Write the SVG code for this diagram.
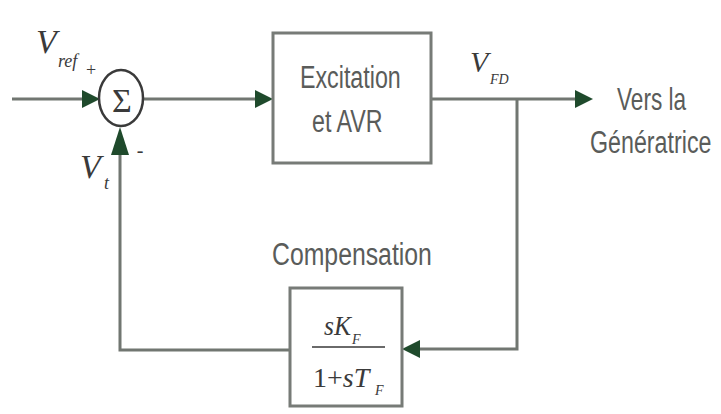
<svg xmlns="http://www.w3.org/2000/svg" width="721" height="414" viewBox="0 0 721 414">
<style>
.ln{fill:none;stroke:#717671;stroke-width:3;stroke-linejoin:miter}
.box{fill:#ffffff;stroke:#777b77;stroke-width:3}
.ah{fill:#1f4a2c}
.lbl{font-family:"Liberation Sans",Arial,sans-serif;font-size:31px;fill:#5a5c5a}
.m{font-family:"Liberation Serif","Times New Roman",serif;font-style:italic;fill:#3a3a3a}
.r{font-family:"Liberation Serif","Times New Roman",serif;fill:#3a3a3a}
</style>
<rect width="721" height="414" fill="#ffffff"/>
<g id="connectors">
<path class="ln" d="M12,99 H90"/>
<path class="ln" d="M142,99 H262"/>
<path class="ln" d="M431,99 H582"/>
<path class="ln" d="M517,99 V349 H412"/>
<path class="ln" d="M290,350 H120 V140"/>
<polygon class="ah" points="100,99 82,90 82,108"/>
<polygon class="ah" points="273,99 255,90 255,108"/>
<polygon class="ah" points="593,99 575,90 575,108"/>
<polygon class="ah" points="402,349 420,340 420,358"/>
<polygon class="ah" points="120,127 111,155 129,155"/>
</g>
<g id="sum">
<ellipse cx="121" cy="98" rx="22" ry="28" fill="#ffffff" stroke="#3a3a3a" stroke-width="2.5"/>
<text class="r" x="122" y="112" font-size="34" text-anchor="middle">Σ</text>
</g>
<g id="vref">
<text class="m" x="36" y="53" font-size="34">V</text>
<text class="m" x="58" y="67" font-size="18">ref</text>
<text class="r" x="91" y="76" font-size="18" text-anchor="middle">+</text>
</g>
<g id="vt">
<text class="m" x="80" y="178" font-size="34">V</text>
<text class="m" x="104" y="189" font-size="18">t</text>
<text class="r" x="140" y="157" font-size="20" text-anchor="middle">-</text>
</g>
<g id="excitation">
<rect class="box" x="273" y="33" width="158" height="130"/>
<text class="lbl" transform="translate(300,88) scale(0.75,1)">Excitation</text>
<text class="lbl" transform="translate(312,132) scale(0.75,1)">et AVR</text>
</g>
<g id="vfd">
<text class="m" x="470" y="72" font-size="30">V</text>
<text class="m" x="490" y="84" font-size="14">FD</text>
</g>
<g id="output">
<text class="lbl" transform="translate(617,110) scale(0.73,1)">Vers la</text>
<text class="lbl" transform="translate(590,153) scale(0.75,1)">Génératrice</text>
</g>
<g id="compensation">
<text class="lbl" transform="translate(272,265) scale(0.8,1)">Compensation</text>
<rect class="box" x="290" y="288" width="112" height="118"/>
<text class="m" x="324" y="335" font-size="27" textLength="27" lengthAdjust="spacingAndGlyphs">sK</text>
<text class="m" x="352" y="344" font-size="14">F</text>
<line x1="312" y1="347" x2="385" y2="347" stroke="#6a6a6a" stroke-width="2"/>
<text class="r" x="313" y="387" font-size="28">1+<tspan font-style="italic">sT</tspan></text>
<text class="m" x="375" y="395" font-size="14">F</text>
</g>
</svg>
